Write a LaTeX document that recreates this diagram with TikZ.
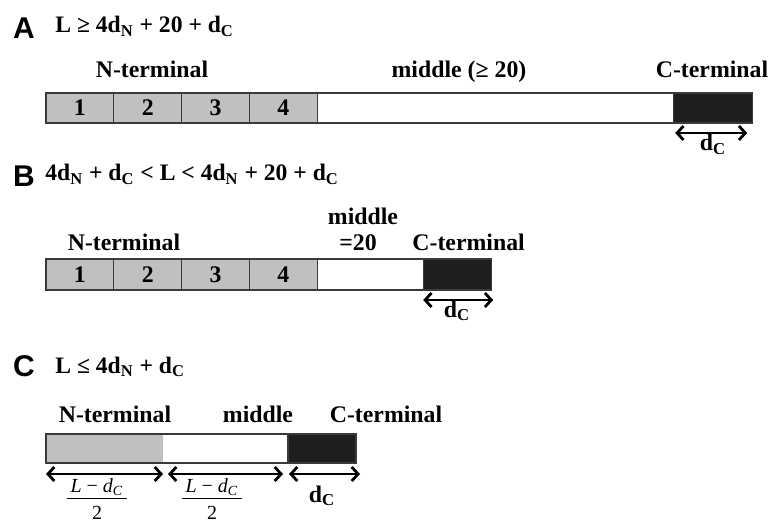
\documentclass[tikz,border=0pt]{standalone}
\usepackage{fontspec}
\setmainfont{Liberation Serif}
\newfontfamily\panelfont{Liberation Sans}
\usetikzlibrary{arrows.meta,positioning}
\definecolor{Ng}{HTML}{C0C0C0}
\definecolor{Cb}{HTML}{1E1E1E}
\definecolor{edge}{HTML}{3A3A3A}
\tikzset{
  panel/.style={font=\panelfont\bfseries\fontsize{15}{16}\selectfont, inner sep=0pt},
  cond/.style={font=\bfseries\fontsize{11.8}{12}\selectfont, inner sep=0pt, anchor=base west},
  lbl/.style={font=\bfseries\fontsize{11.9}{12}\selectfont, inner sep=0pt, anchor=base},
  seg/.style={rectangle, draw=edge, line width=0.6pt, inner sep=0pt, outer sep=0pt,
    minimum height=15pt, font=\bfseries\fontsize{11.9}{12}\selectfont},
  nseg/.style={seg, fill=Ng, minimum width=33.9pt},
  mseg/.style={seg, fill=white},
  cseg/.style={seg, fill=Cb},
  dimspan/.style={{Straight Barb[length=3.2pt,width=7pt]}-{Straight Barb[length=3.2pt,width=7pt]}, line width=1.4pt},
  fracl/.style={font=\fontsize{10}{11}\selectfont, inner sep=0pt},
}
\newcommand{\dsub}[1]{d\textsubscript{#1}}
\newcommand{\halfrest}{{\renewcommand{\arraystretch}{0.5}%
  \begin{tabular}{@{\,}c@{\,}}\rule[-3pt]{0pt}{10pt}\textit{L} − \textit{d}\textsubscript{\textit{C}}\\\hline
  \rule{0pt}{10pt}2\end{tabular}}}

\begin{document}
\begin{tikzpicture}[x=0.5pt, y=-0.5pt]
  \useasboundingbox (0,0) rectangle (769,523);
  % A
  \node[panel] (pA) at (24,28) {A};
  \node[cond] (kA) at (55,33) {L ≥ 4\dsub{N} + 20 + \dsub{C}};
  \node[nseg, anchor=west] (a1) at (46,108) {1};
  \foreach \i [remember=\i as \j (initially 1)] in {2,3,4}
    \node[nseg, right=0pt of a\j] (a\i) {\i};
  \node[mseg, right=0pt of a4, minimum width=178pt] (mA) {};
  \node[cseg, right=0pt of mA, minimum width=39.5pt] (cA) {};
  \node[lbl] (tNA) at (152,78) {N-terminal};
  \node[lbl] (tMA) at (459,78) {middle (≥ 20)};
  \node[lbl] (tCA) at (712,78) {C-terminal};
  \draw[dimspan] ([xshift=1pt,yshift=-5pt]cA.south west) -- ([xshift=-2.5pt,yshift=-5pt]cA.south east);
  \node[lbl] (dA) at (713,151) {\dsub{C}};
  % B
  \node[panel] (pB) at (24,176) {B};
  \node[cond] (kB) at (45,181) {4\dsub{N} + \dsub{C} < L < 4\dsub{N} + 20 + \dsub{C}};
  \node[nseg, anchor=west, minimum height=15.5pt] (b1) at (46,274.5) {1};
  \foreach \i [remember=\i as \j (initially 1)] in {2,3,4}
    \node[nseg, minimum height=15.5pt, right=0pt of b\j] (b\i) {\i};
  \node[mseg, right=0pt of b4, minimum width=53pt, minimum height=15.5pt] (mB) {};
  \node[cseg, right=0pt of mB, minimum width=34pt, minimum height=15.5pt] (cB) {};
  \node[lbl] (tNB) at (124,250) {N-terminal};
  \node[lbl] (tMB) at (363,225) {middle};
  \node[lbl] (tEB) at (358,250) {=20};
  \node[lbl, anchor=base west] (tCB) at (412,250) {C-terminal};
  \draw[dimspan] ([yshift=-5pt]cB.south west) -- ([xshift=1pt,yshift=-5pt]cB.south east);
  \node[lbl] (dB) at (457,317) {\dsub{C}};
  % C
  \node[panel] (pC) at (24,366) {C};
  \node[cond] (kC) at (55,373) {L ≤ 4\dsub{N} + \dsub{C}};
  \node[seg, fill=Ng, draw=none, anchor=west, minimum width=58.5pt, minimum height=14.5pt] (gC) at (46,448.5) {};
  \node[seg, fill=white, draw=none, right=0pt of gC, minimum width=62.5pt, minimum height=14.5pt] (mC) {};
  \node[cseg, right=0pt of mC, minimum width=34pt, minimum height=14.5pt] (cC) {};
  \draw[edge, line width=0.6pt] (gC.north west) rectangle (cC.south east);
  \node[lbl] (tNC) at (115,422) {N-terminal};
  \node[lbl] (tMC) at (258,422) {middle};
  \node[lbl] (tCC) at (386,422) {C-terminal};
  \draw[dimspan] ([yshift=-5.5pt]gC.south west) -- ([yshift=-5.5pt]gC.south east);
  \draw[dimspan] ([xshift=2.5pt,yshift=-5.5pt]mC.south west) -- ([xshift=-2.5pt,yshift=-5.5pt]mC.south east);
  \draw[dimspan] ([xshift=0.5pt,yshift=-5.5pt]cC.south west) -- ([xshift=2pt,yshift=-5.5pt]cC.south east);
  \node[fracl] (fN) at (97,500.5) {\halfrest};
  \node[fracl] (fM) at (212,500.5) {\halfrest};
  \node[lbl] (dC) at (322,502) {\dsub{C}};
\end{tikzpicture}
\end{document}
